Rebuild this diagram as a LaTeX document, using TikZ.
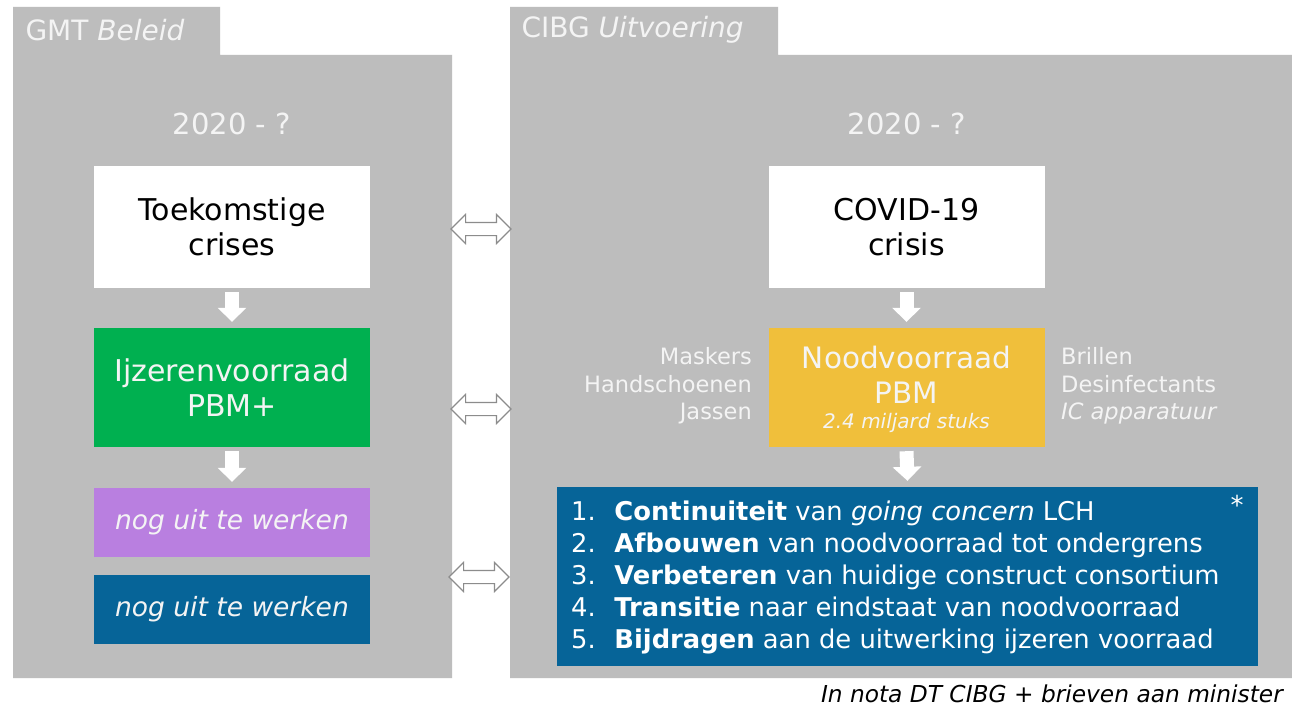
\documentclass[tikz,border=0pt]{standalone}
\usepackage{fontspec}
\setmainfont{DejaVu Sans}
\usetikzlibrary{shapes.arrows,arrows.meta}
\definecolor{panelgrey}{HTML}{BDBDBD}
\definecolor{boxgreen}{HTML}{00B050}
\definecolor{boxpurple}{HTML}{B97FE0}
\definecolor{boxblue}{HTML}{066498}
\definecolor{boxyellow}{HTML}{F0BF3B}
\definecolor{lighttext}{HTML}{F4F4F4}
\definecolor{arrowgrey}{HTML}{8C8C8C}
\tikzset{
  panel/.style={fill=panelgrey},
  bigbox/.style={minimum width=276pt, minimum height=122pt, inner sep=0pt, align=center,
                 font=\fontsize{30}{35}\selectfont},
  tabtext/.style={anchor=west, text=lighttext, font=\fontsize{28}{30}\selectfont},
  yeartext/.style={text=lighttext, font=\fontsize{29}{30}\selectfont},
  sidetext/.style={text=lighttext, font=\fontsize{22.5}{27.5}\selectfont, inner sep=0pt},
  dnarrow/.style={draw=white, line width=14pt, -{Triangle[width=28pt,length=14pt]}},
  dblarrow/.style={double arrow, draw=arrowgrey, fill=white, line width=1.1pt,
                   minimum height=60pt, minimum width=28pt, inner sep=6pt,
                   double arrow head extend=8pt}
}
\begin{document}
\begin{tikzpicture}[x=1pt,y=-1pt]
\useasboundingbox (0,0) rectangle (1292,709);
\fill[white] (0,0) rectangle (1292,709);
% panels
\fill[panel] (13,7) -- (220,7) -- (220,55) -- (452,55) -- (452,678) -- (13,678) -- cycle;
\fill[panel] (510,7) -- (778,7) -- (778,55) -- (1292,55) -- (1292,678) -- (510,678) -- cycle;
\node[tabtext] (tabL) at (22,30) {GMT \textit{Beleid}};
\node[tabtext] (tabR) at (518,30) {CIBG \textit{Uitvoering}};
\node[yeartext] (yearL) at (232,124) {2020 - ?};
\node[yeartext] (yearR) at (907,124) {2020 - ?};
% left column
\node[bigbox, fill=white] (toek) at (232,227) {Toekomstige\\crises};
\node[bigbox, fill=boxgreen, text=lighttext, minimum height=119pt] (ijzer) at (232,387.5) {Ijzerenvoorraad\\PBM+};
\node[bigbox, fill=boxpurple, text=lighttext, minimum height=69pt, font=\fontsize{26.5}{30}\selectfont\itshape] (paars) at (232,522.5) {nog uit te werken};
\node[bigbox, fill=boxblue, text=lighttext, minimum height=69pt, font=\fontsize{26.5}{30}\selectfont\itshape] (blauw) at (232,609.5) {nog uit te werken};
\draw[dnarrow] ([yshift=-4pt]toek.south) -- ([yshift=6pt]ijzer.north);
\draw[dnarrow] ([yshift=-4pt]ijzer.south) -- ([yshift=6pt]paars.north);
% right column
\node[bigbox, fill=white] (covid) at (906.5,227) {COVID-19\\crisis};
\node[bigbox, fill=boxyellow, text=lighttext, minimum height=119pt] (nood) at (906.5,387.5) {};
\node[text=lighttext, font=\fontsize{29.5}{35}\selectfont, inner sep=0pt, align=center] (noodt) at (906.5,375) {Noodvoorraad\\PBM};
\node[text=lighttext, font=\fontsize{20}{22}\selectfont\itshape, inner sep=0pt] (stuks) at (906.5,423) {2.4 miljard stuks};
\node[sidetext, anchor=east, align=right] (sideL) at (752,386) {Maskers\\Handschoenen\\Jassen};
\node[sidetext, anchor=west, align=left] (sideR) at (1061,386) {Brillen\\Desinfectants\\\textit{IC apparatuur}};
\node[fill=boxblue, minimum width=701pt, minimum height=179pt, inner sep=0pt] (lijst) at (907.5,576.5) {};
\node[anchor=west, text=white, inner sep=0pt, align=left, font=\fontsize{25.8}{32}\selectfont] (lijstt) at (571,577) {%
1.\hspace{0.72em}\textbf{Continuiteit} van \textit{going concern} LCH\\
2.\hspace{0.72em}\textbf{Afbouwen} van noodvoorraad tot ondergrens\\
3.\hspace{0.72em}\textbf{Verbeteren} van huidige construct consortium\\
4.\hspace{0.72em}\textbf{Transitie} naar eindstaat van noodvoorraad\\
5.\hspace{0.72em}\textbf{Bijdragen} aan de uitwerking ijzeren voorraad};
\node[text=white, font=\fontsize{26}{28}\selectfont, inner sep=0pt] (ster) at (1237,505) {*};
\draw[dnarrow] ([yshift=-4pt]covid.south) -- ([yshift=6pt]nood.north);
\draw[dnarrow] ([yshift=-4pt]nood.south) -- ([yshift=6pt]lijst.north);
% double arrows between panels
\node[dblarrow] (dbl1) at (481,229) {};
\node[dblarrow] (dbl2) at (481,409) {};
\node[dblarrow] (dbl3) at (479,577) {};
% footnote
\node[anchor=east, inner sep=0pt, font=\fontsize{23.3}{24}\selectfont\itshape] (foot) at (1283,694) {In nota DT CIBG + brieven aan minister};
\end{tikzpicture}
\end{document}
